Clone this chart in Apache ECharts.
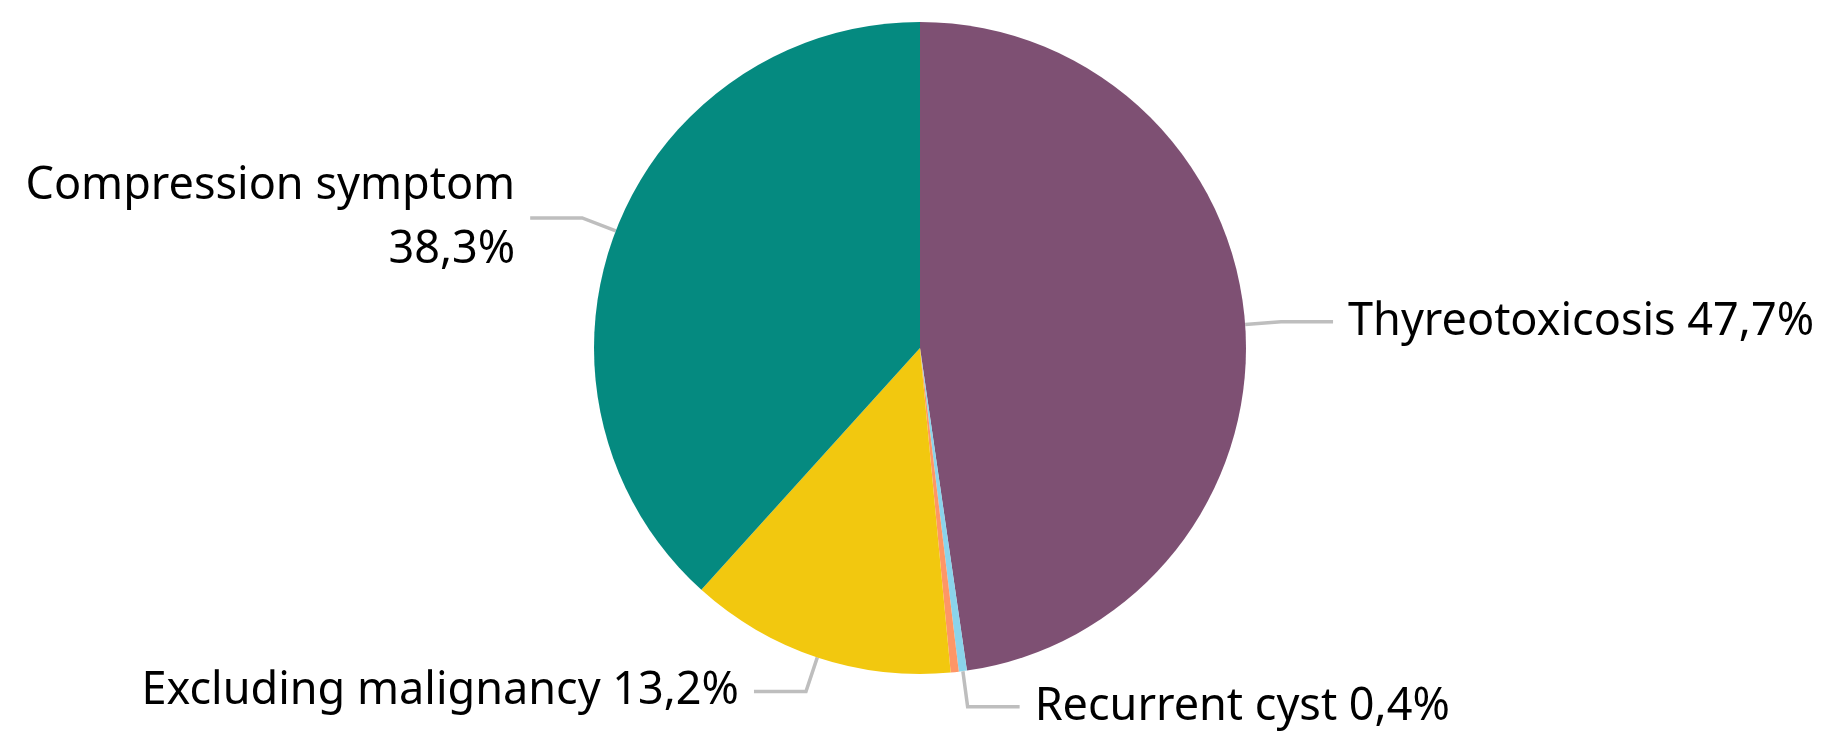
<!DOCTYPE html>
<html>
<head>
<meta charset="utf-8">
<script src="https://cdn.jsdelivr.net/npm/echarts@6/dist/echarts.min.js"></script>
<style>
  html, body { margin: 0; padding: 0; background: #fff; }
  #chart { width: 1823px; height: 739px; }
</style>
</head>
<body>
<div id="chart"></div>
<script>
// share of indications, percent
const categories = ['Thyreotoxicosis', 'Recurrent cyst', 'Other', 'Excluding malignancy', 'Compression symptom']
const values = [47.7, 0.4, 0.4, 13.2, 38.3]
const colors = ['#7E5073', '#8AD4EB', '#FE9666', '#F2C80F', '#058A80']
const hiddenLabels = ['Other']
const wrappedLabels = ['Compression symptom']

const chart = echarts.init(document.getElementById('chart'))

const data = categories.map((name, i) => {
  const item = { name, value: values[i], itemStyle: { color: colors[i] } }
  if (hiddenLabels.includes(name)) {
    item.label = { show: false }
    item.labelLine = { show: false }
  }
  return item
})

chart.setOption({
  animation: false,
  series: [
    {
      type: 'pie',
      center: [920, 348],
      radius: 326,
      startAngle: 90,
      clockwise: true,
      avoidLabelOverlap: false,
      itemStyle: { borderWidth: 0 },
      label: {
        show: true,
        position: 'outside',
        fontFamily: 'Noto Sans',
        fontSize: 45,
        lineHeight: 64,
        color: '#000',
        padding: [18, 0, 0, 0],
        distanceToLabelLine: 15,
        formatter: p => {
          const pct = p.value.toFixed(1).replace('.', ',') + '%'
          return wrappedLabels.includes(p.name) ? p.name + '\n' + pct : p.name + ' ' + pct
        }
      },
      labelLine: {
        show: true,
        length: 36,
        length2: 52,
        lineStyle: { color: '#BEBEBE', width: 3.5 }
      },
      data
    }
  ]
})
</script>
</body>
</html>
